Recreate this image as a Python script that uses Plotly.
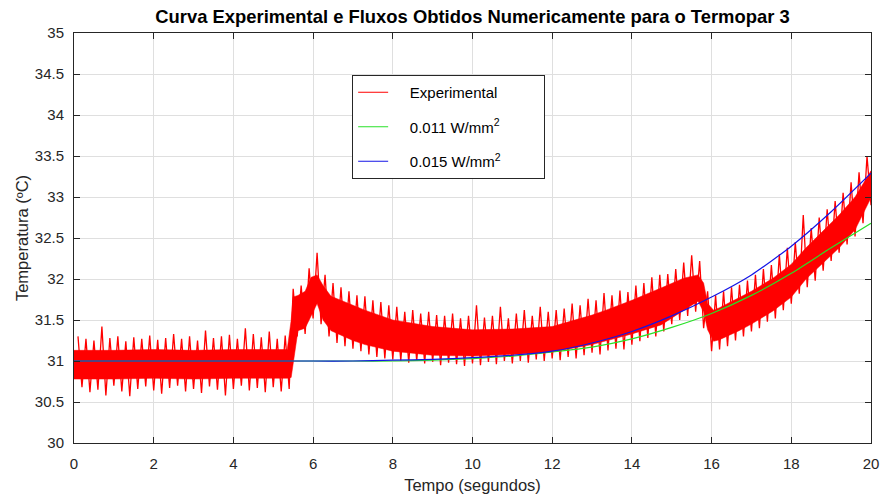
import numpy as np
import plotly.graph_objects as go

# ---------------- data ----------------
# Dense body of the experimental signal (upper / lower edge of the solid band)
env_t = [0, 1, 2, 3, 4, 5, 5.35, 5.45, 5.5, 5.62, 5.8, 5.95, 6.1, 6.25, 6.45, 7.0, 7.3, 8.0,
         9.0, 10.0, 11.0, 12.0, 13.0, 13.35, 14.0, 14.73, 15.3, 15.66, 15.8, 15.9, 16.05,
         16.2, 16.69, 17.0, 17.54, 18.0, 18.37, 19.2, 19.6, 20.0]
env_hi = [31.13, 31.13, 31.14, 31.13, 31.14, 31.14, 31.14, 31.50, 31.78, 31.80, 31.85, 32.02,
          32.05, 31.92, 31.79, 31.68, 31.62, 31.50, 31.42, 31.38, 31.39, 31.42, 31.56, 31.62,
          31.74, 31.89, 32.01, 32.05, 31.95, 31.70, 31.62, 31.65, 31.77, 31.85, 32.01, 32.18,
          32.38, 32.78, 33.00, 33.32]
env_lo = [30.78, 30.78, 30.79, 30.78, 30.79, 30.79, 30.79, 30.80, 30.95, 31.37, 31.40, 31.55,
          31.70, 31.50, 31.37, 31.25, 31.20, 31.12, 31.07, 31.06, 31.08, 31.11, 31.20, 31.24,
          31.33, 31.44, 31.62, 31.73, 31.60, 31.38, 31.24, 31.26, 31.37, 31.45, 31.61, 31.78,
          32.00, 32.38, 32.60, 32.99]

# Upward spikes (sampled every 0.2 s starting at 0.1 s)
spike_t = np.round(np.arange(0.1, 20.0, 0.2), 2)
spike_hi = [31.30, 31.27, 31.25, 31.42, 31.28, 31.30, 31.24, 31.29, 31.27, 31.31,
            31.26, 31.28, 31.33, 31.27, 31.30, 31.25, 31.37, 31.28, 31.30, 31.32,
            31.27, 31.40, 31.33, 31.29, 31.36, 31.27, 31.31, 31.88, 31.92, 32.13,
            32.32, 32.05, 31.95, 31.90, 31.85, 31.80, 31.79, 31.74, 31.72, 31.68,
            31.66, 31.60, 31.62, 31.58, 31.60, 31.56, 31.55, 31.58, 31.52, 31.55,
            31.68, 31.53, 31.55, 31.66, 31.52, 31.58, 31.62, 31.55, 31.66, 31.60,
            31.62, 31.64, 31.70, 31.68, 31.76, 31.74, 31.83, 31.80, 31.86, 31.84,
            31.92, 31.95, 32.02, 32.05, 32.06, 32.12, 32.20, 32.29, 32.22, 31.85,
            31.80, 31.85, 31.90, 31.93, 31.98, 32.05, 32.12, 32.17, 32.30, 32.38,
            32.45, 32.78, 32.62, 32.75, 32.85, 32.95, 33.05, 33.18, 33.30, 33.50]

# Downward spikes (sampled every 0.2 s starting at 0.2 s)
trough_t = np.round(np.arange(0.2, 20.01, 0.2), 2)
trough_lo = [30.68, 30.62, 30.65, 30.58, 30.70, 30.63, 30.57, 30.66, 30.69, 30.64,
             30.60, 30.67, 30.70, 30.63, 30.66, 30.61, 30.69, 30.65, 30.58, 30.66,
             30.70, 30.64, 30.67, 30.62, 30.68, 30.63, 30.66, 31.30, 31.33, 31.52,
             31.45, 31.30, 31.22, 31.18, 31.15, 31.12, 31.08, 31.05, 31.03, 31.02,
             31.00, 30.98, 31.00, 30.97, 30.99, 30.95, 30.98, 30.96, 30.94, 30.97,
             30.95, 30.99, 30.96, 31.00, 30.97, 31.00, 30.98, 31.02, 31.00, 31.03,
             31.01, 31.05, 31.03, 31.07, 31.10, 31.08, 31.13, 31.15, 31.14, 31.20,
             31.24, 31.28, 31.30, 31.36, 31.45, 31.50, 31.55, 31.60, 31.40, 31.12,
             31.14, 31.18, 31.25, 31.30, 31.36, 31.40, 31.48, 31.52, 31.62, 31.70,
             31.82, 31.90, 31.98, 32.10, 32.22, 32.32, 32.42, 32.52, 32.68, 32.90]

# Numerical solutions
model_t = list(range(0, 21))
flux_011 = [31.0, 31.0, 31.0, 31.0, 31.0, 31.0, 31.0, 31.0, 31.0, 31.01, 31.03, 31.06,
            31.11, 31.17, 31.27, 31.41, 31.58, 31.80, 32.07, 32.38, 32.68]
flux_015 = [31.0, 31.0, 31.0, 31.0, 31.0, 31.0, 31.0, 31.0, 31.01, 31.02, 31.04, 31.07,
            31.12, 31.22, 31.36, 31.55, 31.78, 32.05, 32.40, 32.82, 33.29]

names = ["Experimental", "0.011 W/mm<sup>2</sup>", "0.015 W/mm<sup>2</sup>"]
x_ticks = list(range(0, 21, 2))
y_ticks = [30, 30.5, 31, 31.5, 32, 32.5, 33, 33.5, 34, 34.5, 35]

# ---------------- figure ----------------
FONT = "Liberation Sans, Arial, Helvetica, sans-serif"
INK = "#262626"
NB = "\u00a0"
RED = "rgb(255,0,0)"

fig = go.Figure()

# solid body of the noisy signal
band_x = list(env_t) + list(env_t)[::-1]
band_y = list(env_hi) + list(env_lo)[::-1]
fig.add_trace(go.Scatter(x=band_x, y=band_y, fill="toself", fillcolor=RED,
                         line=dict(width=0.5, color=RED), mode="lines",
                         hoverinfo="skip", showlegend=False))

# spikes: zig-zag between upward and downward extremes
zx, zy = [], []
for a, b, c, d in zip(spike_t, spike_hi, trough_t, trough_lo):
    zx += [a, c]
    zy += [b, d]
fig.add_trace(go.Scatter(x=zx, y=zy, mode="lines", showlegend=False, legendgroup="a",
                         line=dict(color=RED, width=1.3)))
# legend entry for the experimental curve (thin line sample as in the reference)
fig.add_trace(go.Scatter(x=[None], y=[None], mode="lines", name=NB * 4 + names[0],
                         legendgroup="a", line=dict(color=RED, width=1)))

fig.add_trace(go.Scatter(x=model_t, y=flux_011, mode="lines", name=NB * 4 + names[1], legendgroup="b",
                         line=dict(color="rgb(40,225,40)", width=1.2, shape="spline", smoothing=0.6)))
fig.add_trace(go.Scatter(x=model_t, y=flux_015, mode="lines", name=NB * 4 + names[2] + NB * 9,
                         legendgroup="c",
                         line=dict(color="rgb(20,20,230)", width=1.2, shape="spline", smoothing=0.6)))

axis_common = dict(showgrid=True, gridcolor="rgb(223,223,223)", gridwidth=1,
                   showline=True, linecolor=INK, linewidth=1, mirror="ticks",
                   ticks="inside", ticklen=6, tickcolor=INK, tickwidth=1,
                   tickfont=dict(family=FONT, size=15, color=INK),
                   zeroline=False)

fig.update_layout(
    width=884, height=497,
    margin=dict(l=73.5, r=12.5, t=33, b=54, autoexpand=False),
    paper_bgcolor="white", plot_bgcolor="white",
    font=dict(family=FONT, color=INK),
    title=dict(text="<b>Curva Experimental e Fluxos Obtidos Numericamente para o Termopar 3</b>",
               x=0.5, xref="paper", xanchor="center", y=1 - 17 / 497, yref="container",
               yanchor="middle", font=dict(family=FONT, size=18.4, color="black")),
    xaxis=dict(range=[0, 20], tickvals=x_ticks, ticktext=[str(v) for v in x_ticks],
               ticklabelstandoff=7,
               title=dict(text="Tempo (segundos)", font=dict(family=FONT, size=16.5, color=INK),
                          standoff=8),
               **axis_common),
    yaxis=dict(range=[30, 35], tickvals=y_ticks, ticktext=[f"{v:g}" for v in y_ticks],
               ticklabelstandoff=6,
               title=dict(text="Temperatura (ºC)", font=dict(family=FONT, size=16.5, color=INK),
                          standoff=2),
               **axis_common),
    legend=dict(x=(352 - 73.5) / 798, y=(443 - 75) / 410, xanchor="left", yanchor="top",
                bordercolor=INK, borderwidth=1, bgcolor="white",
                font=dict(family=FONT, size=15, color="black"),
                traceorder="grouped", tracegroupgap=12),
    showlegend=True,
)

fig.write_html("out.html")
